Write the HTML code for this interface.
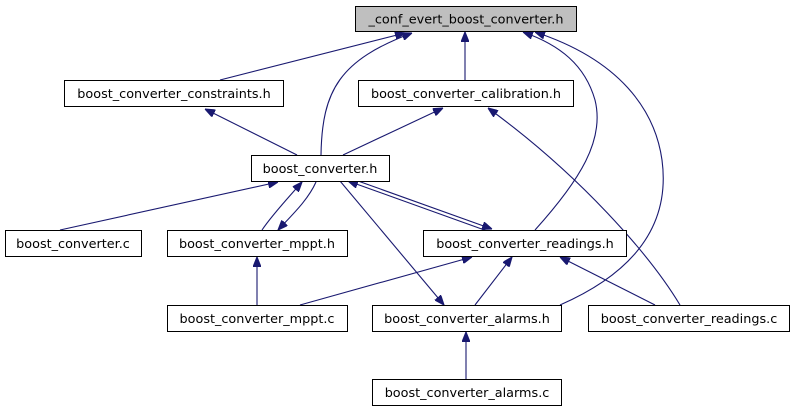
<!DOCTYPE html>
<html><head><meta charset="utf-8"><style>
html,body{margin:0;padding:0;background:#fff;}
svg{display:block}
text{font-family:"DejaVu Sans","Liberation Sans",sans-serif;font-size:12.8px;fill:#000;text-anchor:middle}
rect{fill:#fff;stroke:#000;stroke-width:1}
path{fill:none;stroke:#191970;stroke-width:1.1}
</style></head><body>
<svg width="792" height="411" viewBox="0 0 792 411">
<defs>
<marker id="a" viewBox="0 0 10 8" refX="10" refY="4" markerWidth="10" markerHeight="8" markerUnits="userSpaceOnUse" orient="auto">
<path d="M0,0 L10,4 L0,8 Z" style="fill:#191970;stroke:#191970"/>
</marker>
</defs>
<path marker-end="url(#a)" d="M220,80 L405,33"/>
<path marker-end="url(#a)" d="M321,155 C322,90 340,60 412,33"/>
<path marker-end="url(#a)" d="M465,80 L465,32"/>
<path marker-end="url(#a)" d="M535,230 C580,180 605,140 595,100 C585,65 560,45 523,32"/>
<path marker-end="url(#a)" d="M560,305 C640,270 670,220 662,160 C655,110 620,60 535,32"/>
<path marker-end="url(#a)" d="M297,155 L205,109"/>
<path marker-end="url(#a)" d="M343,155 L443,108"/>
<path marker-end="url(#a)" d="M680,305 C650,255 580,175 488,108"/>
<path marker-end="url(#a)" d="M60,230 L278,182"/>
<path marker-end="url(#a)" d="M262,230 C272,215 288,198 302,182"/>
<path marker-end="url(#a)" d="M316,182 C308,200 292,215 278,230"/>
<path marker-end="url(#a)" d="M358,181 L492,229"/>
<path marker-end="url(#a)" d="M490,232 L348,181"/>
<path marker-end="url(#a)" d="M340,181 L444,305"/>
<path marker-end="url(#a)" d="M257,305 L257,257"/>
<path marker-end="url(#a)" d="M300,305 L472,257"/>
<path marker-end="url(#a)" d="M475,305 L512,257"/>
<path marker-end="url(#a)" d="M655,305 L560,257"/>
<path marker-end="url(#a)" d="M466,379 L466,332"/>
<rect x="355.5" y="6.5" width="221" height="25" style="fill:#bfbfbf"/>
<text x="466" y="23.5">_conf_evert_boost_converter.h</text>
<rect x="64.5" y="80.5" width="219" height="26"/>
<text x="174" y="98">boost_converter_constraints.h</text>
<rect x="358.5" y="80.5" width="215" height="26"/>
<text x="466" y="98">boost_converter_calibration.h</text>
<rect x="251.5" y="155.5" width="138" height="26"/>
<text x="320" y="173">boost_converter.h</text>
<rect x="5.5" y="230.5" width="136" height="26"/>
<text x="73" y="248">boost_converter.c</text>
<rect x="167.5" y="230.5" width="180" height="26"/>
<text x="257" y="248">boost_converter_mppt.h</text>
<rect x="423.5" y="230.5" width="203" height="26"/>
<text x="525" y="248">boost_converter_readings.h</text>
<rect x="167.5" y="305.5" width="180" height="26"/>
<text x="257" y="323">boost_converter_mppt.c</text>
<rect x="372.5" y="305.5" width="189" height="26"/>
<text x="467" y="323">boost_converter_alarms.h</text>
<rect x="588.5" y="305.5" width="201" height="26"/>
<text x="689" y="323">boost_converter_readings.c</text>
<rect x="372.5" y="379.5" width="189" height="26"/>
<text x="467" y="397">boost_converter_alarms.c</text>
</svg>
</body></html>
